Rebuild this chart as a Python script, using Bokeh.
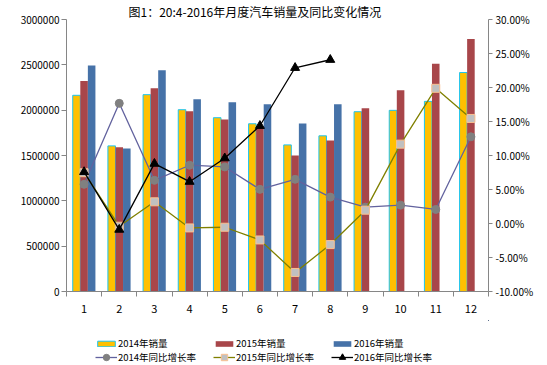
from bokeh.plotting import figure
from bokeh.layouts import column
from bokeh.models import (Range1d, LinearAxis, FixedTicker, PrintfTickFormatter,
                          BasicTickFormatter, Legend, LegendItem, Title, ColumnDataSource)
from bokeh.transform import dodge
from bokeh.embed import file_html
from bokeh.resources import INLINE

# ---- data ----
months = list(range(1, 13))
months_2016 = list(range(1, 9))
sales_2014 = [2164000, 1606000, 2171000, 2005000, 1917000, 1850000,
              1617000, 1717000, 1983000, 1998000, 2097000, 2415000]
sales_2015 = [2323000, 1591000, 2241000, 1987000, 1898000, 1802000,
              1499000, 1665000, 2020000, 2219000, 2511000, 2784000]
sales_2016 = [2494000, 1577000, 2441000, 2120000, 2086000, 2064000,
              1854000, 2064000]
growth_2014 = [5.76, 17.67, 6.35, 8.57, 8.32, 5.02, 6.50, 3.88, 2.40, 2.70, 2.07, 12.75]
growth_2015 = [7.47, -0.40, 3.19, -0.65, -0.55, -2.42, -7.20, -3.10, 1.96, 11.67, 19.88, 15.45]
growth_2016 = [7.58, -0.90, 8.80, 6.15, 9.60, 14.37, 22.90, 24.08]
left_ticks = [0, 500000, 1000000, 1500000, 2000000, 2500000, 3000000]
right_ticks = [-10, -5, 0, 5, 10, 15, 20, 25, 30]
title_text = "图1：20:4-2016年月度汽车销量及同比变化情况"
series_names = ["2014年销量", "2015年销量", "2016年销量",
                "2014年同比增长率", "2015年同比增长率", "2016年同比增长率"]

FONT = "Noto Sans CJK SC"
AXIS_COLOR = "#868686"

# styles
BAR_STYLES = [dict(fill_color="#FFC000", line_color="#1CC4F0", line_width=1),
              dict(fill_color="#A8464A", line_color=None),
              dict(fill_color="#4672A8", line_color=None)]
LINE_STYLES = [dict(line_color="#62629E", line_width=1.3),
               dict(line_color="#808000", line_width=1.3),
               dict(line_color="black", line_width=1.3)]
MARK_STYLES = [dict(marker="circle", size=8, fill_color="#808080", line_color="#808080"),
               dict(marker="square", size=8, fill_color="#C0C0C0", line_color="#FAC090", line_width=1),
               dict(marker="triangle", size=9, fill_color="black", line_color="black")]

src = ColumnDataSource(dict(month=months, s14=sales_2014, s15=sales_2015,
                            g14=growth_2014, g15=growth_2015))
src16 = ColumnDataSource(dict(month=months_2016, s16=sales_2016, g16=growth_2016))

p = figure(width=547, height=320, x_range=Range1d(0.5, 12.5), y_range=Range1d(0, 3000000),
           output_backend="svg", toolbar_location=None,
           min_border_left=66, min_border_right=59, min_border_top=19, min_border_bottom=29)
p.extra_y_ranges = {"pct": Range1d(-10, 30)}
p.outline_line_color = None
p.xgrid.visible = False
p.ygrid.visible = False

# bars
bw = 0.215
p.vbar(x=dodge("month", -bw, range=p.x_range), top="s14", width=bw, source=src, **BAR_STYLES[0])
p.vbar(x=dodge("month", 0, range=p.x_range), top="s15", width=bw, source=src, **BAR_STYLES[1])
p.vbar(x=dodge("month", bw, range=p.x_range), top="s16", width=bw, source=src16, **BAR_STYLES[2])

# lines
p.line("month", "g14", source=src, y_range_name="pct", **LINE_STYLES[0])
p.scatter("month", "g14", source=src, y_range_name="pct", **MARK_STYLES[0])
p.line("month", "g15", source=src, y_range_name="pct", **LINE_STYLES[1])
p.scatter("month", "g15", source=src, y_range_name="pct", **MARK_STYLES[1])
p.line("month", "g16", source=src16, y_range_name="pct", **LINE_STYLES[2])
p.scatter("month", "g16", source=src16, y_range_name="pct", **MARK_STYLES[2])

# x axis
xa = p.xaxis[0]
xa.ticker = FixedTicker(ticks=months, minor_ticks=[m - 0.5 for m in months] + [12.5])
xa.major_tick_out = 0
xa.major_tick_in = 0
xa.minor_tick_out = 5
xa.minor_tick_in = 0
xa.minor_tick_line_color = AXIS_COLOR
xa.axis_line_color = AXIS_COLOR
xa.major_label_standoff = 8
xa.major_label_text_font = FONT
xa.major_label_text_font_size = "11px"
xa.major_label_text_color = "black"

# left axis
ya = p.yaxis[0]
ya.ticker = FixedTicker(ticks=left_ticks)
ya.formatter = BasicTickFormatter(use_scientific=False)
ya.major_tick_out = 5
ya.major_tick_in = 0
ya.minor_tick_line_color = None
ya.axis_line_color = AXIS_COLOR
ya.major_tick_line_color = AXIS_COLOR
ya.major_label_standoff = 2
ya.major_label_text_font = FONT
ya.major_label_text_font_size = "10px"
ya.major_label_text_color = "black"

# right axis
ra = LinearAxis(y_range_name="pct", ticker=FixedTicker(ticks=right_ticks),
                formatter=PrintfTickFormatter(format="%.2f%%"))
ra.major_tick_out = 4
ra.major_tick_in = 0
ra.minor_tick_line_color = None
ra.axis_line_color = AXIS_COLOR
ra.major_tick_line_color = AXIS_COLOR
ra.major_label_standoff = 3
ra.major_label_text_font = FONT
ra.major_label_text_font_size = "10px"
ra.major_label_text_color = "black"
p.add_layout(ra, "right")

# title
p.add_layout(Title(text=title_text, align="left", offset=62, standoff=0,
                   text_font=FONT, text_font_size="12px", text_font_style="normal",
                   text_color="black"), "above")

# ---- legend strip (separate figure below the chart; its renderers lie outside its view) ----
lf = figure(width=547, height=45, x_range=Range1d(-20, -19), y_range=Range1d(-20, -19),
            output_backend="svg", toolbar_location=None, x_axis_type=None, y_axis_type=None,
            min_border=0)
lf.outline_line_color = None
lf.xgrid.visible = False
lf.ygrid.visible = False
bar_r = [lf.vbar(x="month", top=c, width=bw, source=s, **st)
         for c, s, st in zip(["s14", "s15", "s16"], [src, src, src16], BAR_STYLES)]
line_r = [lf.line("month", c, source=s, **st)
          for c, s, st in zip(["g14", "g15", "g16"], [src, src, src16], LINE_STYLES)]
mark_r = [lf.scatter("month", c, source=s, **st)
          for c, s, st in zip(["g14", "g15", "g16"], [src, src, src16], MARK_STYLES)]

def make_legend(items, loc, gh):
    return Legend(items=items, location=loc, orientation="horizontal", padding=0, margin=0,
                  border_line_color=None, background_fill_alpha=0, glyph_width=22,
                  glyph_height=gh, label_standoff=1, label_width=94, label_height=gh,
                  spacing=1, label_text_font=FONT, label_text_font_size="9.5px",
                  label_text_color="black")

leg1 = make_legend([LegendItem(label=series_names[i], renderers=[bar_r[i]]) for i in range(3)],
                   (29, 15), 7)
leg2 = make_legend([LegendItem(label=series_names[3 + i], renderers=[line_r[i], mark_r[i]])
                    for i in range(3)], (29, 0), 16)
lf.add_layout(leg1, "center")
lf.add_layout(leg2, "center")

open("out.html", "w").write(file_html(column(p, lf, spacing=0), INLINE))
